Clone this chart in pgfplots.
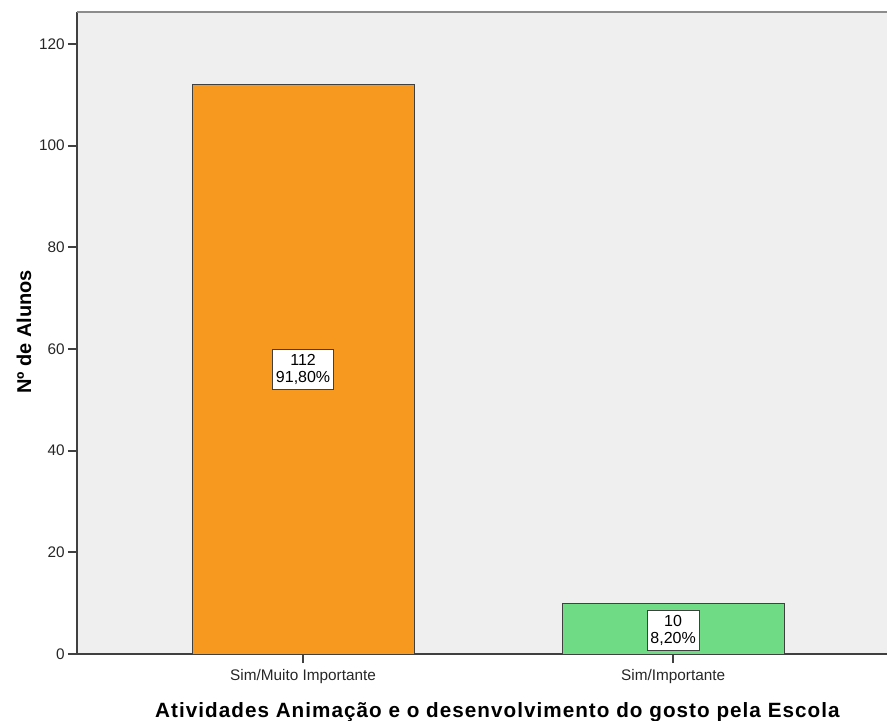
\documentclass[border=0pt]{standalone}
\usepackage{fontspec}
\setmainfont{Liberation Sans}
\usepackage{pgfplots}
\pgfplotsset{compat=1.18}
\definecolor{bgc}{HTML}{EFEFEF}
\definecolor{orangebar}{HTML}{F7991F}
\definecolor{greenbar}{HTML}{70DB85}
\definecolor{axc}{HTML}{404040}
\definecolor{topc}{HTML}{8C8C8C}
\begin{document}
\begin{tikzpicture}
\useasboundingbox (-57.75pt,-49.5pt) rectangle (607.5pt,490.5pt);
\begin{axis}[
  at={(0,0)}, anchor=south west,
  scale only axis, width=607.5pt, height=481.5pt,
  xmin=-0.611, xmax=1.578, ymin=0, ymax=126.3,
  axis background/.style={fill=bgc},
  axis x line*=bottom, axis y line*=left,
  axis line style={axc, line width=1.1pt},
  xtick={0,1}, xticklabels={Sim/Muito Importante, Sim/Importante},
  ytick={0,20,...,120},
  tick align=outside, major tick length=6.75pt,
  tick style={axc, line width=1.3pt},
  /pgf/number format/assume math mode=true,
  tick label style={font=\fontsize{11.5}{13}\selectfont, color=black!85},
  yticklabel style={xshift=1pt},
  xticklabel style={yshift=-1pt},
  xlabel={Atividades Animação e o desenvolvimento do gosto pela Escola},
  xlabel style={font=\bfseries\fontsize{15.5}{18}\selectfont\addfontfeatures{LetterSpace=5}, at={(axis description cs:0.519,0)}, anchor=base, yshift=-47.25pt},
  ylabel={Nº de Alunos},
  ylabel style={font=\bfseries\fontsize{15}{18}\selectfont, at={(axis description cs:-0.0654,0.5016)}, anchor=center},
  clip=false,
]
\addplot[ybar, bar width=0.6, fill=orangebar, draw=axc, line width=0.6pt] coordinates {(0,112)};
\addplot[ybar, bar width=0.6, fill=greenbar, draw=axc, line width=0.6pt] coordinates {(1,10)};
\draw[topc, line width=1.5pt] (rel axis cs:0,1) -- (rel axis cs:1,1);
\node[draw=axc, fill=white, align=center, inner xsep=2.5pt, inner ysep=3.8pt, line width=0.6pt, font=\fontsize{12}{12.5}\selectfont] at (axis cs:0,56) {112\\91,80\%};
\node[draw=axc, fill=white, align=center, inner xsep=2.5pt, inner ysep=3.8pt, line width=0.6pt, font=\fontsize{12}{12.5}\selectfont] at (axis cs:1,4.6) {10\\8,20\%};
\end{axis}
\end{tikzpicture}
\end{document}
